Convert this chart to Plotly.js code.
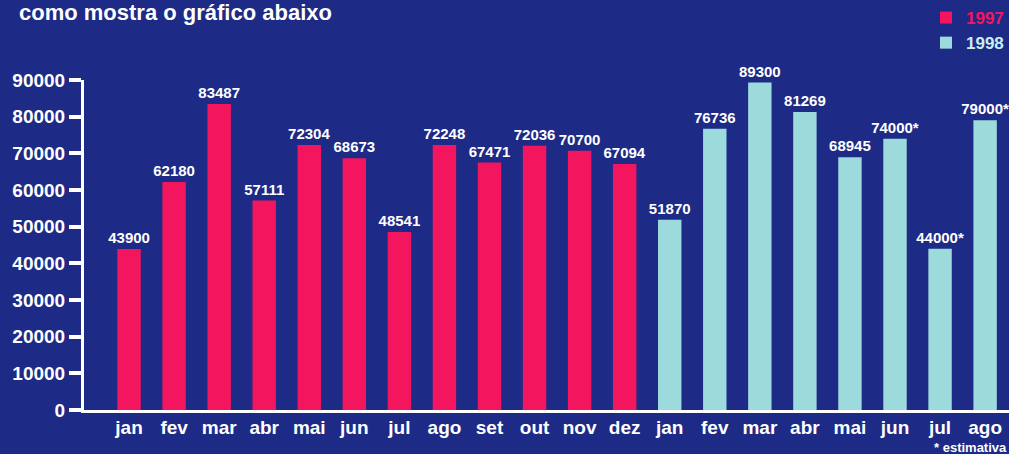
<!DOCTYPE html>
<html>
<head>
<meta charset="utf-8">
<script src="https://cdn.plot.ly/plotly-3.0.1.min.js"></script>
<style>html,body{margin:0;padding:0;background:#1d2a86;}#chart{width:1009px;height:454px;}</style>
</head>
<body>
<div id="chart"></div>
<script>
const months1997 = ['jan','fev','mar','abr','mai','jun','jul','ago','set','out','nov','dez'];
const months1998 = ['jan','fev','mar','abr','mai','jun','jul','ago'];
const values1997 = [43900, 62180, 83487, 57111, 72304, 68673, 48541, 72248, 67471, 72036, 70700, 67094];
const values1998 = [51870, 76736, 89300, 81269, 68945, 74000, 44000, 79000];
const estimate1998 = [false, false, false, false, false, true, true, true];
const yTicks = [0, 10000, 20000, 30000, 40000, 50000, 60000, 70000, 80000, 90000];

const red = '#f3155e';
const cyan = '#9cdadb';
const bg = '#1d2a86';
const fontFam = 'Liberation Sans, Arial, sans-serif';

const x1997 = months1997.map((m, i) => i);
const x1998 = months1998.map((m, i) => i + months1997.length);
const text1997 = values1997.map(v => String(v));
const text1998 = values1998.map((v, i) => String(v) + (estimate1998[i] ? '*' : ''));

const traces = [
  {type: 'bar', x: x1997, y: values1997, name: '<span style="color:' + red + '">1997</span>',
   marker: {color: red}, width: 0.52, text: text1997, textposition: 'outside',
   textfont: {color: '#ffffff', size: 15, family: fontFam, weight: 'bold'},
   cliponaxis: false, constraintext: 'none', hoverinfo: 'skip'},
  {type: 'bar', x: x1998, y: values1998, name: '<span style="color:#c9eef0">1998</span>',
   marker: {color: cyan}, width: 0.52, text: text1998, textposition: 'outside',
   textfont: {color: '#ffffff', size: 15, family: fontFam, weight: 'bold'},
   cliponaxis: false, constraintext: 'none', hoverinfo: 'skip'}
];

const layout = {
  width: 1009, height: 454,
  paper_bgcolor: bg, plot_bgcolor: bg,
  margin: {l: 84, r: 0, t: 80, b: 44},
  barmode: 'overlay',
  showlegend: true,
  legend: {x: 0.92, y: 1.0, xref: 'paper', yref: 'container', xanchor: 'left', yanchor: 'top',
           bgcolor: 'rgba(0,0,0,0)', font: {family: fontFam, size: 17, weight: 'bold', color: '#ffffff'},
           itemwidth: 30, tracegroupgap: 4},
  font: {family: fontFam, color: '#ffffff'},
  xaxis: {range: [-1, 19.53], tickvals: x1997.concat(x1998), ticktext: months1997.concat(months1998),
          showgrid: false, zeroline: false, showline: true, linecolor: '#ffffff', linewidth: 3,
          ticks: '', ticklabelstandoff: -2,
          tickfont: {size: 19, family: fontFam, weight: 'bold', color: '#ffffff'}, fixedrange: true},
  yaxis: {range: [0, 90000], tickvals: yTicks, ticktext: yTicks.map(String), showgrid: false, zeroline: false,
          showline: true, linecolor: '#ffffff', linewidth: 3, ticks: 'outside', ticklen: 12, tickwidth: 4,
          tickcolor: '#ffffff', tickfont: {size: 19, family: fontFam, weight: 'bold', color: '#ffffff'}, fixedrange: true},
  annotations: [
    {text: 'como mostra o gráfico abaixo', xref: 'paper', yref: 'paper', x: -0.072, y: 1.0, yshift: 68,
     xanchor: 'left', yanchor: 'middle', showarrow: false,
     font: {size: 22, family: fontFam, weight: 'bold', color: '#ffffff'}},
    {text: '* estimativa', xref: 'paper', yref: 'paper', x: 1.0, y: 0, yshift: -37, xanchor: 'right', yanchor: 'middle',
     showarrow: false, font: {size: 13, family: fontFam, weight: 'bold', color: '#ffffff'}}
  ]
};

Plotly.newPlot('chart', traces, layout, {displayModeBar: false, staticPlot: true});
</script>
</body>
</html>
